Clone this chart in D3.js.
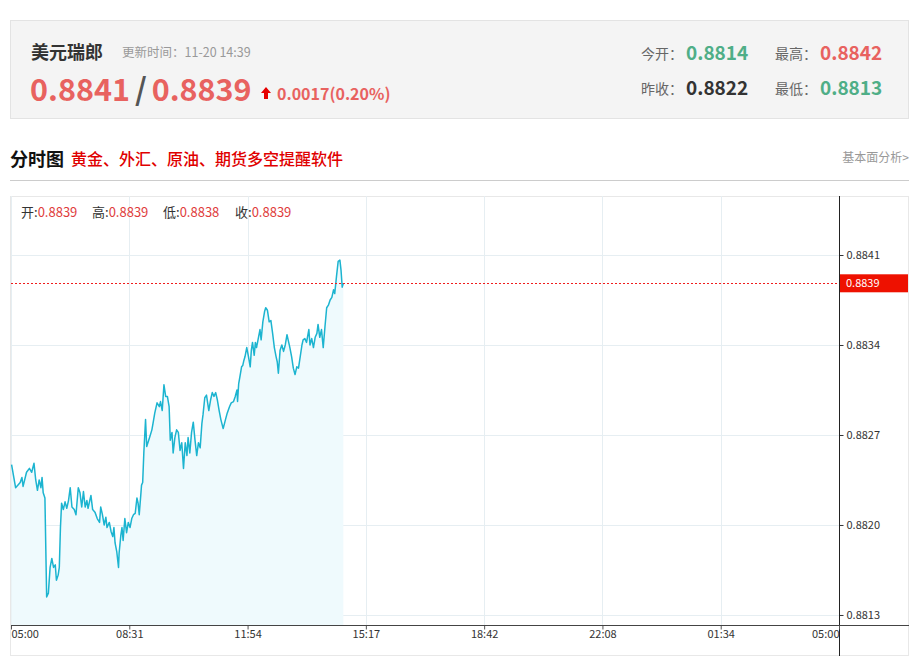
<!DOCTYPE html>
<html><head><meta charset="utf-8">
<script src="https://cdn.jsdelivr.net/npm/d3@7"></script>
<style>
html,body{margin:0;padding:0;background:#fff;}
svg{display:block;}
text{font-family:"Noto Sans CJK SC","Open Sans",sans-serif;}
</style></head>
<body><svg id="c" width="919" height="668"></svg>
<script>
// ---- data ----
const symbolName = "美元瑞郎";
const updateTime = "更新时间：11-20 14:39";
const bidAsk = ["0.8841", "0.8839"];
const change = "0.0017(0.20%)";
const statLabels = ["今开：", "最高：", "昨收：", "最低："];
const statValues = ["0.8814", "0.8842", "0.8822", "0.8813"];
const ohlcLabels = ["开:", "高:", "低:", "收:"];
const ohlcValues = ["0.8839", "0.8839", "0.8838", "0.8839"];
const yTicks = [0.8813, 0.8820, 0.8827, 0.8834, 0.8841];
const xTickLabels = ["05:00", "08:31", "11:54", "15:17", "18:42", "22:08", "01:34", "05:00"];
const lastPrice = 0.88388;
// minutes after 05:00
const minutes = [1,8,16,19,21,27,32,36,40,43,46,49,52,54,56,59,62,65,68,71,74,77,79,82,84,86,88,91,94,97,100,103,106,110,113,117,120,123,126,129,132,134,139,142,146,150,154,156,159,162,165,167,171,174,177,179,181,184,187,188,191,193,195,198,201,204,207,210,213,216,219,221,223,226,227,229,231,234,236,241,245,247,250,254,258,260,263,266,269,272,275,277,280,282,285,288,291,294,297,300,303,306,308,311,314,317,320,323,326,329,332,334,337,340,344,347,350,353,356,359,362,365,369,373,376,380,383,387,390,393,394,396,398,401,403,405,407,410,413,416,418,420,423,425,427,430,433,435,438,441,443,446,449,452,455,458,461,463,465,468,471,474,477,480,482,485,488,491,494,497,500,503,506,508,511,514,518,520,523,526,529,532,534,537,540,543,546,549,552,555,558,561,563,566,569,572,574,576,578];
const prices = [0.88247,0.88229,0.88233,0.88237,0.88230,0.88241,0.88244,0.88241,0.88248,0.88235,0.88227,0.88235,0.88229,0.88237,0.88225,0.88221,0.88144,0.88147,0.88167,0.88174,0.88167,0.88169,0.88157,0.88161,0.88167,0.88198,0.88217,0.88212,0.88218,0.88213,0.88219,0.88229,0.88214,0.88212,0.88208,0.88229,0.88225,0.88214,0.88226,0.88214,0.88219,0.88213,0.88223,0.88212,0.88210,0.88205,0.88202,0.88214,0.88208,0.88200,0.88206,0.88198,0.88202,0.88195,0.88191,0.88198,0.88186,0.88179,0.88167,0.88178,0.88192,0.88198,0.88188,0.88205,0.88194,0.88202,0.88198,0.88205,0.88208,0.88209,0.88221,0.88217,0.88208,0.88225,0.88231,0.88233,0.88256,0.88282,0.88261,0.88268,0.88274,0.88279,0.88287,0.88295,0.88292,0.88296,0.88289,0.88309,0.88300,0.88300,0.88292,0.88266,0.88272,0.88256,0.88268,0.88274,0.88272,0.88258,0.88264,0.88244,0.88264,0.88254,0.88268,0.88256,0.88272,0.88280,0.88266,0.88254,0.88264,0.88260,0.88279,0.88286,0.88299,0.88301,0.88289,0.88297,0.88303,0.88300,0.88303,0.88297,0.88289,0.88282,0.88275,0.88282,0.88287,0.88292,0.88295,0.88296,0.88300,0.88305,0.88296,0.88310,0.88315,0.88323,0.88324,0.88328,0.88331,0.88338,0.88331,0.88323,0.88336,0.88342,0.88332,0.88342,0.88338,0.88345,0.88352,0.88344,0.88358,0.88366,0.88369,0.88367,0.88358,0.88359,0.88349,0.88338,0.88331,0.88327,0.88318,0.88336,0.88340,0.88335,0.88340,0.88348,0.88344,0.88338,0.88331,0.88322,0.88317,0.88323,0.88322,0.88331,0.88340,0.88344,0.88345,0.88342,0.88352,0.88340,0.88345,0.88338,0.88346,0.88349,0.88356,0.88346,0.88352,0.88338,0.88354,0.88369,0.88371,0.88375,0.88377,0.88383,0.88380,0.88393,0.88405,0.88406,0.88398,0.88385,0.88388];

const series = minutes.map((m, i) => ({m, v: prices[i]}));

const svg = d3.select("#c");
svg.append("rect").attr("width", 919).attr("height", 668).attr("fill", "#fff");

// ---- header box ----
svg.append("rect").attr("x", 10.5).attr("y", 20.5).attr("width", 898).attr("height", 98)
  .attr("fill", "#f4f4f4").attr("stroke", "#e3e3e3");
svg.append("text").attr("x", 31).attr("y", 59).attr("font-size", 18).attr("font-weight", "bold")
  .attr("fill", "#333").text(symbolName);
svg.append("text").attr("x", 122).attr("y", 57).attr("font-size", 12.5).attr("fill", "#999").text(updateTime);
const big = svg.append("text").attr("x", 30).attr("y", 101).attr("font-size", 30.5).attr("font-weight", "bold")
  .attr("font-family", "'Open Sans',sans-serif");
big.append("tspan").attr("fill", "#e8625f").text(bidAsk[0]);
big.append("tspan").attr("fill", "#555").attr("dx", 5).text("/");
big.append("tspan").attr("fill", "#e8625f").attr("dx", 5).text(bidAsk[1]);
// arrow
svg.append("path").attr("d", "M266,87 L271,93 L268,93 L268,99 L264,99 L264,93 L261,93 Z").attr("fill", "#e60000");
svg.append("text").attr("x", 277).attr("y", 100).attr("font-size", 16).attr("font-weight", "bold")
  .attr("font-family", "'Open Sans',sans-serif").attr("fill", "#e8625f").text(change);

const statPos = [[641, 686, 60], [775, 820, 60], [641, 686, 95], [775, 820, 95]];
const statColors = ["#4fae87", "#e8625f", "#333", "#4fae87"];
statLabels.forEach((l, i) => {
  const [lx, vx, by] = statPos[i];
  svg.append("text").attr("x", lx).attr("y", by - 1).attr("font-size", 14).attr("fill", "#666").text(l);
  svg.append("text").attr("x", vx).attr("y", by).attr("font-size", 19).attr("font-weight", "bold")
    .attr("font-family", "'Open Sans',sans-serif").attr("fill", statColors[i]).text(statValues[i]);
});

// ---- title row ----
svg.append("text").attr("x", 10).attr("y", 166).attr("font-size", 18).attr("font-weight", "bold")
  .attr("fill", "#111").text("分时图");
svg.append("text").attr("x", 71).attr("y", 165).attr("font-size", 16).attr("fill", "#e00000")
  .attr("font-weight", "500").text("黄金、外汇、原油、期货多空提醒软件");
svg.append("text").attr("x", 909).attr("y", 162).attr("font-size", 12).attr("fill", "#999")
  .attr("text-anchor", "end").text("基本面分析>");
svg.append("line").attr("x1", 10).attr("x2", 909).attr("y1", 180.5).attr("y2", 180.5).attr("stroke", "#ccc");

// ---- chart ----
const L = 11, R = 839, T = 196, B = 625;
svg.append("rect").attr("x", 10.5).attr("y", 196.5).attr("width", 898).attr("height", 459)
  .attr("fill", "none").attr("stroke", "#e8e8e8");

const x = d3.scaleLinear().domain([0, 1440]).range([L, R]);
const y = d3.scaleLinear().domain([0.881222, 0.884559]).range([B, T]);
const xTickVals = xTickLabels.map((_, i) => i * 1440 / 7);

// gridlines
const grid = svg.append("g");
xTickVals.slice(1, -1).forEach(v => {
  grid.append("line").attr("x1", Math.round(x(v)) + 0.5).attr("x2", Math.round(x(v)) + 0.5)
    .attr("y1", T).attr("y2", B).attr("stroke", "#e6eef2");
});
yTicks.forEach(v => {
  grid.append("line").attr("x1", L).attr("x2", R).attr("y1", Math.round(y(v)) + 0.5).attr("y2", Math.round(y(v)) + 0.5)
    .attr("stroke", "#e6eef2");
});
svg.append("line").attr("x1", L + 0.5).attr("x2", L + 0.5).attr("y1", T).attr("y2", B).attr("stroke", "#e6eef2");

// area + line
const area = d3.area().x(d => x(d.m)).y0(B).y1(d => y(d.v));
svg.append("path").datum(series).attr("d", area).attr("fill", "#effafd");
const line = d3.line().x(d => x(d.m)).y(d => y(d.v));
svg.append("path").datum(series).attr("d", line).attr("fill", "none")
  .attr("stroke", "#1cb4d0").attr("stroke-width", 1.5).attr("stroke-linejoin", "round");

// last price dashed line
svg.append("line").attr("x1", L).attr("x2", R).attr("y1", Math.round(y(lastPrice)) + 0.5)
  .attr("y2", Math.round(y(lastPrice)) + 0.5).attr("stroke", "#f01c1c").attr("stroke-dasharray", "2,2")
  .attr("shape-rendering", "crispEdges");

// right axis
const yAxis = d3.axisRight(y).tickValues(yTicks).tickFormat(d3.format(".4f")).tickSize(4).tickSizeOuter(0);
const gy = svg.append("g").attr("transform", `translate(${R + 0.5},0)`).call(yAxis);
gy.select(".domain").remove();
gy.selectAll("line").attr("stroke", "#333");
gy.selectAll("text").attr("font-size", 11).attr("fill", "#333").attr("x", 7)
  .attr("font-family", "'Noto Sans CJK SC',sans-serif");
svg.append("line").attr("x1", R + 0.5).attr("x2", R + 0.5).attr("y1", T).attr("y2", 656).attr("stroke", "#222");

// last price label
const ly = y(lastPrice);
svg.append("rect").attr("x", R + 1).attr("y", ly - 9).attr("width", 68).attr("height", 18).attr("fill", "#ee1100");
svg.append("text").attr("x", R + 7).attr("y", ly + 4).attr("font-size", 11).attr("fill", "#fff")
  .text(d3.format(".4f")(lastPrice));

// bottom axis
const xAxis = d3.axisBottom(x).tickValues(xTickVals).tickFormat((d, i) => xTickLabels[i]).tickSize(4).tickSizeOuter(0);
const gx = svg.append("g").attr("transform", `translate(0,${B + 0.5})`).call(xAxis);
gx.select(".domain").remove();
gx.selectAll("line").attr("stroke", "#555");
gx.selectAll("text").attr("font-size", 11).attr("fill", "#333").attr("y", 5)
  .attr("font-family", "'Noto Sans CJK SC',sans-serif")
  .attr("text-anchor", (d, i) => i === 0 ? "start" : (i === xTickLabels.length - 1 ? "end" : "middle"));
svg.append("line").attr("x1", L).attr("x2", 909).attr("y1", B + 0.5).attr("y2", B + 0.5).attr("stroke", "#444");

// OHLC readout
const ohlcX = [21, 92, 163, 235];
ohlcLabels.forEach((l, i) => {
  const t = svg.append("text").attr("x", ohlcX[i]).attr("y", 217).attr("font-size", 13);
  t.append("tspan").attr("fill", "#333").text(l);
  t.append("tspan").attr("fill", "#e03c3c").text(ohlcValues[i]);
});
</script></body></html>
